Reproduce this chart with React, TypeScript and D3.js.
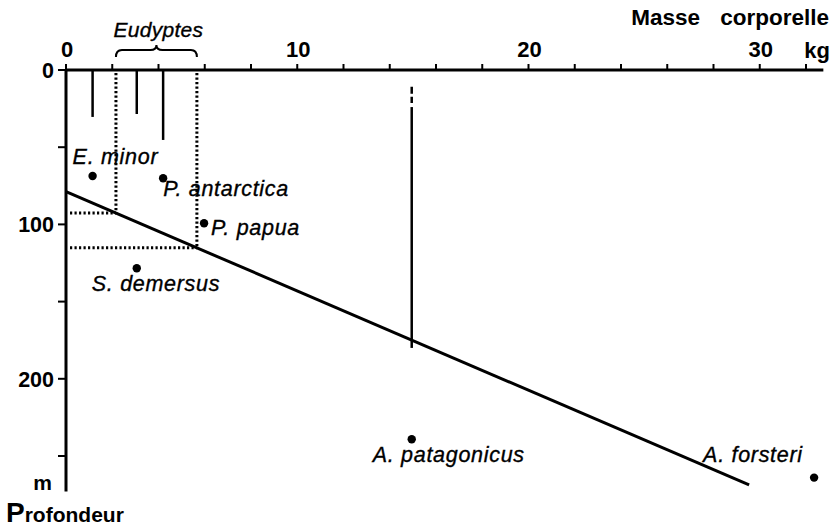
import * as d3 from "d3";
import { useEffect, useRef } from "react";

// species dots: body mass (kg) and depth (m)
const species = ["E. minor", "P. antarctica", "P. papua", "S. demersus", "A. patagonicus", "A. forsteri"];
const massKg = [1.15, 4.2, 5.97, 3.06, 14.95, 32.35];
const depthM = [68.7, 70.1, 99.3, 128.4, 239.2, 264];

// vertical bars hanging from the surface
const barMass = [1.15, 3.06, 4.2];
const barDepth = [30.4, 28.5, 45.3];

// A. patagonicus bar: dashed top, then solid
const kingMass = 14.95;
const kingDashed = [10.8, 21.4];
const kingSolid = [24, 180];

// Eudyptes mass range
const eudyptesMass = [2.16, 5.66];

// regression line
const fitIntercept = 78.8;
const fitSlope = 6.43;
const fitMass = [0, 29.54];

const massTicks = [0, 2, 4, 6, 8, 10, 12, 14, 16, 18, 20, 22, 24, 26, 28, 30, 32];
const massLabels = [0, 10, 20, 30];
const depthTicks = [0, 50, 100, 150, 200, 250];
const depthLabels = [0, 100, 200];

// label placement relative to the dot (dx, dy)
const labelOffset = {
  "E. minor": [-20, -12],
  "P. antarctica": [0, 18],
  "P. papua": [7, 12],
  "S. demersus": [-45, 23],
  "A. patagonicus": [-39, 23],
  "A. forsteri": [-111, -16],
};

const FONT = "'Liberation Sans', Arial, sans-serif";

function drawChart(svgElement) {
  const width = 834;
  const height = 531;
  const svg = d3.select(svgElement);
  svg.selectAll("*").remove();
  svg.attr("viewBox", `0 0 ${width} ${height}`).attr("width", width).attr("height", height);

  const x = d3.scaleLinear().domain([0, 32]).range([66, 806]);
  const y = d3.scaleLinear().domain([0, 250]).range([70, 456]);

  const g = svg.append("g").attr("font-family", FONT);

  // axes
  g.append("line")
    .attr("x1", x(0)).attr("x2", x(32.75))
    .attr("y1", y(0)).attr("y2", y(0))
    .attr("stroke", "#000").attr("stroke-width", 3);
  g.append("line")
    .attr("x1", x(0)).attr("x2", x(0))
    .attr("y1", y(0)).attr("y2", y(273))
    .attr("stroke", "#000").attr("stroke-width", 3);

  g.append("g")
    .selectAll("line")
    .data(massTicks)
    .join("line")
    .attr("x1", (d) => x(d)).attr("x2", (d) => x(d))
    .attr("y1", y(0)).attr("y2", y(0) - 6)
    .attr("stroke", "#000").attr("stroke-width", 2);

  g.append("g")
    .selectAll("line")
    .data(depthTicks)
    .join("line")
    .attr("x1", x(0) - 8).attr("x2", x(0))
    .attr("y1", (d) => y(d)).attr("y2", (d) => y(d))
    .attr("stroke", "#000").attr("stroke-width", 2);

  g.append("g")
    .selectAll("text")
    .data(massLabels)
    .join("text")
    .attr("x", (d) => x(d) + 1)
    .attr("y", 57)
    .attr("text-anchor", "middle")
    .attr("font-size", 22)
    .attr("font-weight", "bold")
    .text((d) => d);

  g.append("text")
    .attr("x", 817).attr("y", 58)
    .attr("text-anchor", "middle")
    .attr("font-size", 22).attr("font-weight", "bold")
    .text("kg");

  g.append("text")
    .attr("x", 829).attr("y", 25)
    .attr("text-anchor", "end")
    .attr("font-size", 22.5).attr("font-weight", "bold")
    .attr("word-spacing", 14)
    .text("Masse corporelle");

  g.append("g")
    .selectAll("text")
    .data(depthLabels)
    .join("text")
    .attr("x", 54)
    .attr("y", (d) => y(d) + 8)
    .attr("text-anchor", "end")
    .attr("font-size", 21.5)
    .attr("font-weight", "bold")
    .text((d) => d);

  g.append("text")
    .attr("x", 52).attr("y", 490)
    .attr("text-anchor", "end")
    .attr("font-size", 21).attr("font-weight", "bold")
    .text("m");

  const prof = g.append("text")
    .attr("x", 6).attr("y", 522)
    .attr("font-size", 21).attr("font-weight", "bold");
  prof.append("tspan").attr("font-size", 28).text("P");
  prof.append("tspan").text("rofondeur");

  // vertical bars from the surface
  g.append("g")
    .selectAll("line")
    .data(barMass)
    .join("line")
    .attr("x1", (d) => x(d)).attr("x2", (d) => x(d))
    .attr("y1", y(0)).attr("y2", (d, i) => y(barDepth[i]))
    .attr("stroke", "#000").attr("stroke-width", 2.5);

  g.append("line")
    .attr("x1", x(kingMass)).attr("x2", x(kingMass))
    .attr("y1", y(kingDashed[0])).attr("y2", y(kingDashed[1]))
    .attr("stroke", "#000").attr("stroke-width", 2.5)
    .attr("stroke-dasharray", "7 3");
  g.append("line")
    .attr("x1", x(kingMass)).attr("x2", x(kingMass))
    .attr("y1", y(kingSolid[0])).attr("y2", y(kingSolid[1]))
    .attr("stroke", "#000").attr("stroke-width", 2.5);

  // regression line
  const fit = (m) => fitIntercept + fitSlope * m;
  g.append("path")
    .datum(fitMass)
    .attr("d", d3.line().x((m) => x(m)).y((m) => y(fit(m))))
    .attr("fill", "none")
    .attr("stroke", "#000").attr("stroke-width", 3);

  // dotted guides for the Eudyptes range
  eudyptesMass.forEach((m) => {
    const d = fit(m);
    g.append("line")
      .attr("x1", x(m)).attr("x2", x(m))
      .attr("y1", y(0) + 3).attr("y2", y(d))
      .attr("stroke", "#000").attr("stroke-width", 3)
      .attr("stroke-dasharray", "2.2 2.3");
    g.append("line")
      .attr("x1", x(0) + 4).attr("x2", x(m))
      .attr("y1", y(d)).attr("y2", y(d))
      .attr("stroke", "#000").attr("stroke-width", 3)
      .attr("stroke-dasharray", "2.2 2.3");
  });

  // Eudyptes brace
  const xl = x(eudyptesMass[0]);
  const xr = x(eudyptesMass[1]);
  const xm = (xl + xr) / 2;
  const yb = 57;
  const yt = 50;
  const brace = `M${xl},${yb} Q${xl},${yt} ${xl + 6},${yt} L${xm - 6},${yt} Q${xm},${yt} ${xm},${yt - 5} Q${xm},${yt} ${xm + 6},${yt} L${xr - 6},${yt} Q${xr},${yt} ${xr},${yb}`;
  g.append("path")
    .attr("d", brace)
    .attr("fill", "none")
    .attr("stroke", "#000").attr("stroke-width", 2);
  g.append("text")
    .attr("x", xm + 2).attr("y", 37)
    .attr("text-anchor", "middle")
    .attr("font-size", 21).attr("font-style", "italic")
    .attr("letter-spacing", 0.3)
    .attr("stroke", "#000").attr("stroke-width", 0.35)
    .text("Eudyptes");

  // species dots and labels
  const points = species.map((name, i) => ({ name, mass: massKg[i], depth: depthM[i] }));
  g.append("g")
    .selectAll("circle")
    .data(points)
    .join("circle")
    .attr("cx", (d) => x(d.mass))
    .attr("cy", (d) => y(d.depth))
    .attr("r", 4.2)
    .attr("fill", "#000");

  g.append("g")
    .selectAll("text")
    .data(points)
    .join("text")
    .attr("x", (d) => x(d.mass) + labelOffset[d.name][0])
    .attr("y", (d) => y(d.depth) + labelOffset[d.name][1])
    .attr("font-size", 21.5)
    .attr("font-style", "italic")
    .attr("letter-spacing", 0.7)
    .attr("stroke", "#000")
    .attr("stroke-width", 0.35)
    .text((d) => d.name);
}

export default function App() {
  const svgRef = useRef(null);

  useEffect(() => {
    drawChart(svgRef.current);
  }, []);

  return (
    <svg
      ref={svgRef}
      style={{ position: "absolute", left: 0, top: 0, background: "#fff" }}
      role="img"
      aria-label="Profondeur de plongée selon la masse corporelle"
    />
  );
}
